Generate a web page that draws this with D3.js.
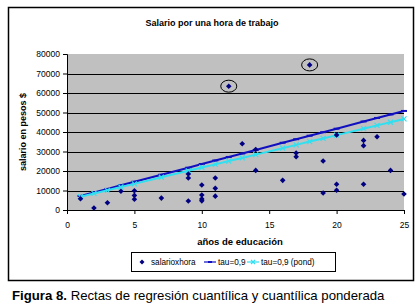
<!DOCTYPE html>
<html>
<head>
<meta charset="utf-8">
<script src="https://cdn.jsdelivr.net/npm/d3@7"></script>
<style>
  body { margin: 0; background: #fff; }
  svg { display: block; font-family: Arial, "Liberation Sans", sans-serif; }
</style>
</head>
<body>
<svg id="chart" width="419" height="307"></svg>
<script>
// scatter: years of education vs. salary per hour
var eduYears = [1, 2, 3, 4, 5, 5, 5, 7, 9, 9, 9, 10, 10, 10, 10, 11, 11, 11, 12, 13,
                14, 14, 16, 17, 17, 18, 19, 19, 20, 20, 20, 22, 22, 22, 23, 24, 25];
var salary = [5800, 1000, 3700, 9600, 9900, 7500, 5500, 6100, 18500, 16400, 4600, 12800, 7700, 5700, 4700, 16400, 11100, 7100, 63500, 34000,
              31000, 20300, 15200, 29200, 27300, 74400, 25100, 8700, 38500, 13200, 10100, 35700, 33000, 13200, 37600, 20300, 8200];

// quantile regression lines
var lineX = [1, 2, 3, 4, 5, 7, 9, 10, 11, 12, 13, 14, 16, 17, 18, 19, 20, 22, 23, 24, 25];
var tau90 = [7200, 9000, 10800, 12700, 14500, 18100, 21700, 23600, 25400, 27200, 29000,
             30800, 34500, 36300, 38100, 39900, 41700, 45400, 47200, 49000, 50800];
var tau90Pond = [6800, 8500, 10100, 11800, 13400, 16800, 20100, 21800, 23400, 25100, 26700,
                 28400, 31700, 33400, 35100, 36700, 38400, 41700, 43400, 45000, 46700];

// circled outliers (index into the scatter arrays)
var outliers = [18, 25];

var xTicks = [0, 5, 10, 15, 20, 25];
var yTicks = [0, 10000, 20000, 30000, 40000, 50000, 60000, 70000, 80000];

var svg = d3.select("#chart");
var plotL = 67, plotR = 404, plotT = 54, plotB = 210;
var BLUE = "#1010c0", CYAN = "#30e0f0", NAVY = "#000080";

var x = d3.scaleLinear().domain([0, 25]).range([plotL, plotR]);
var y = d3.scaleLinear().domain([0, 80000]).range([plotB, plotT]);

// outer frame
svg.append("rect")
    .attr("x", 8.5).attr("y", 7.5).attr("width", 405).attr("height", 273)
    .attr("fill", "#fff").attr("stroke", "#000").attr("stroke-width", 1.5);

svg.append("text")
    .attr("x", 212).attr("y", 26)
    .attr("text-anchor", "middle")
    .attr("font-size", 9).attr("font-weight", "bold")
    .text("Salario por una hora de trabajo");

// plot area
svg.append("rect")
    .attr("x", plotL).attr("y", plotT).attr("width", plotR - plotL).attr("height", plotB - plotT)
    .attr("fill", "#c0c0c0");

svg.append("g").selectAll("line")
    .data(yTicks.slice(1, -1))
    .join("line")
    .attr("x1", plotL).attr("x2", plotR)
    .attr("y1", function (d) { return Math.round(y(d)) + 0.5; })
    .attr("y2", function (d) { return Math.round(y(d)) + 0.5; })
    .attr("stroke", "#000").attr("stroke-width", 1);

var yAxis = svg.append("g")
    .attr("transform", "translate(" + plotL + ",0)")
    .call(d3.axisLeft(y).tickValues(yTicks).tickSize(4).tickPadding(3).tickFormat(d3.format("d")));
var xAxis = svg.append("g")
    .attr("transform", "translate(0," + plotB + ")")
    .call(d3.axisBottom(x).tickValues(xTicks).tickSize(4).tickPadding(8));

[yAxis, xAxis].forEach(function (g) {
    g.selectAll("text").attr("font-size", 8.5).attr("font-family", "Arial, 'Liberation Sans', sans-serif").attr("fill", "#000");
    g.select(".domain").attr("stroke", "#000");
});

svg.append("text")
    .attr("transform", "translate(26," + ((plotT + plotB) / 2) + ") rotate(-90)")
    .attr("text-anchor", "middle")
    .attr("font-size", 9).attr("font-weight", "bold")
    .text("salario en pesos $");

svg.append("text")
    .attr("x", 240).attr("y", 245)
    .attr("text-anchor", "middle")
    .attr("font-size", 9.5).attr("font-weight", "bold")
    .text("años de educación");

// regression lines
var lineGen = d3.line()
    .x(function (d) { return x(d[0]); })
    .y(function (d) { return y(d[1]); });

var bluePts = d3.zip(lineX, tau90);
var cyanPts = d3.zip(lineX, tau90Pond);

svg.append("path").datum(bluePts).attr("d", lineGen)
    .attr("fill", "none").attr("stroke", BLUE).attr("stroke-width", 2);
svg.append("g").selectAll("line").data(bluePts).join("line")
    .attr("x1", function (d) { return x(d[0]) - 3; })
    .attr("x2", function (d) { return x(d[0]) + 3; })
    .attr("y1", function (d) { return y(d[1]); })
    .attr("y2", function (d) { return y(d[1]); })
    .attr("stroke", BLUE).attr("stroke-width", 2);

svg.append("path").datum(cyanPts).attr("d", lineGen)
    .attr("fill", "none").attr("stroke", CYAN).attr("stroke-width", 2);
svg.append("g").selectAll("path").data(cyanPts).join("path")
    .attr("d", function (d) {
        var cx = x(d[0]), cy = y(d[1]);
        return "M" + (cx - 2.5) + "," + (cy - 2.5) + "L" + (cx + 2.5) + "," + (cy + 2.5) +
               "M" + (cx - 2.5) + "," + (cy + 2.5) + "L" + (cx + 2.5) + "," + (cy - 2.5);
    })
    .attr("stroke", CYAN).attr("stroke-width", 1.2);

// scatter points (square diamonds like the spreadsheet marker)
function diamondAt(cx, cy, r) {
    return "M" + cx + "," + (cy - r) + "L" + (cx + r) + "," + cy +
           "L" + cx + "," + (cy + r) + "L" + (cx - r) + "," + cy + "Z";
}
svg.append("g").selectAll("path")
    .data(d3.zip(eduYears, salary))
    .join("path")
    .attr("d", function (d) { return diamondAt(x(d[0]), y(d[1]), 2.8); })
    .attr("fill", NAVY);

svg.append("g").selectAll("ellipse")
    .data(outliers)
    .join("ellipse")
    .attr("cx", function (i) { return x(eduYears[i]); })
    .attr("cy", function (i) { return y(salary[i]); })
    .attr("rx", 8).attr("ry", 6)
    .attr("fill", "none").attr("stroke", "#000").attr("stroke-width", 1);

// legend
var lg = svg.append("g");
lg.append("rect")
    .attr("x", 131.5).attr("y", 252.5).attr("width", 204).attr("height", 19)
    .attr("fill", "#fff").attr("stroke", "#000").attr("stroke-width", 1);
var ly = 262;
lg.append("path").attr("d", diamondAt(142, ly, 2.5)).attr("fill", NAVY);
lg.append("text").attr("x", 151).attr("y", ly + 3).attr("font-size", 8.2).text("salarioxhora");
lg.append("line").attr("x1", 204).attr("x2", 216).attr("y1", ly).attr("y2", ly)
    .attr("stroke", BLUE).attr("stroke-width", 1.2);
lg.append("line").attr("x1", 208).attr("x2", 212).attr("y1", ly).attr("y2", ly)
    .attr("stroke", BLUE).attr("stroke-width", 2);
lg.append("text").attr("x", 218).attr("y", ly + 3).attr("font-size", 8.2).text("tau=0,9");
lg.append("line").attr("x1", 247).attr("x2", 259).attr("y1", ly).attr("y2", ly)
    .attr("stroke", CYAN).attr("stroke-width", 1.2);
lg.append("path")
    .attr("d", "M251,260L255,264M251,264L255,260")
    .attr("stroke", CYAN).attr("stroke-width", 1.2);
lg.append("text").attr("x", 261).attr("y", ly + 3).attr("font-size", 8.2).text("tau=0,9 (pond)");

// caption
var cap = svg.append("text").attr("x", 12).attr("y", 300).attr("font-size", 13.2);
cap.append("tspan").attr("font-weight", "bold").text("Figura 8.");
cap.append("tspan").text(" Rectas de regresión cuantílica y cuantílica ponderada");
</script>
</body>
</html>
